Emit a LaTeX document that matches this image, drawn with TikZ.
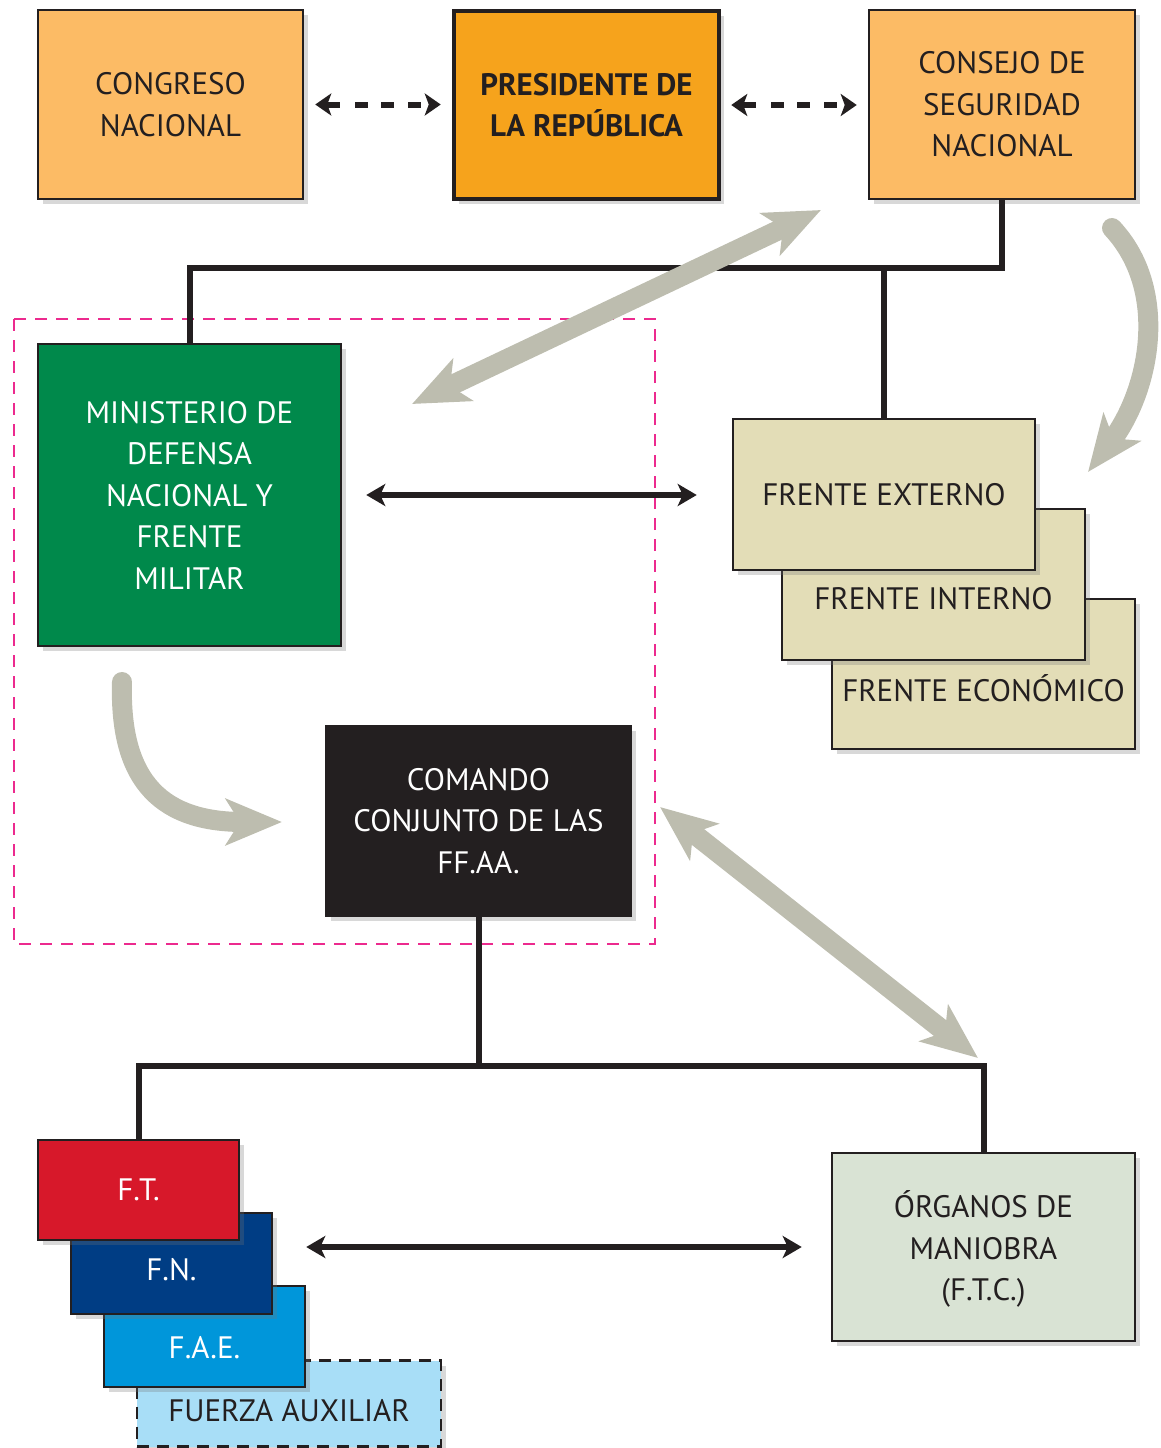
\documentclass[tikz,border=0pt]{standalone}
\usepackage{fontspec}
\setmainfont{PT Sans}
\usetikzlibrary{arrows.meta,shadows}
\definecolor{ink}{HTML}{231F20}
\definecolor{orangeL}{HTML}{FCBB65}
\definecolor{orangeD}{HTML}{F6A31C}
\definecolor{greenM}{HTML}{00894B}
\definecolor{khaki}{HTML}{E3DDB7}
\definecolor{sage}{HTML}{D9E3D4}
\definecolor{redF}{HTML}{D7182A}
\definecolor{navyF}{HTML}{003D84}
\definecolor{blueF}{HTML}{0096DA}
\definecolor{skyF}{HTML}{A8DEF7}
\definecolor{grayA}{HTML}{BDBDAF}
\definecolor{magF}{HTML}{EC2A8E}
\newcommand{\lowertext}[2]{\raisebox{-#1}[\height][\depth]{#2}}
\begin{document}
\begin{tikzpicture}[x=1pt,y=-1pt,
  box/.style={draw=ink, line width=2.5pt, inner sep=0pt, align=center,
    font=\fontsize{31}{41.5}\selectfont, text=ink,
    drop shadow={shadow xshift=5pt,shadow yshift=-5pt,opacity=0.28,fill=black!55}},
  bus/.style={draw=ink, line width=6pt},
  dasharrow/.style={draw=ink, line width=6pt,
    {Stealth[length=16pt,width=22pt,inset=4pt]}-{Stealth[length=16pt,width=22pt,inset=4pt]},
    dash pattern=on 14pt off 15pt on 13pt off 13pt on 13pt off 14pt on 13pt off 8pt on 40pt},
  blkarrow/.style={draw=ink, line width=6pt,
    {Stealth[length=19pt,width=22pt,inset=5pt]}-{Stealth[length=19pt,width=22pt,inset=5pt]}},
  grayarrow/.style={draw=grayA, line width=20pt,
    -{Stealth[length=56pt,width=46pt,inset=14pt]}},
  graydouble/.style={draw=grayA, line width=20pt,
    {Stealth[length=56pt,width=46pt,inset=14pt]}-{Stealth[length=56pt,width=46pt,inset=14pt]}},
  magframe/.style={draw=magF, line width=1.5pt, dash pattern=on 12pt off 9pt}
]
\useasboundingbox (0,0) rectangle (1161,1448);

% dashed magenta frame
\draw[magframe] (14,319) rectangle (655,944);

% bus coordinates
\coordinate (busA) at (0,268);
\coordinate (busB) at (0,1066);

% top nodes
\node[box, fill=orangeL, minimum width=265pt, minimum height=189pt] (congreso) at (170.5,104.5) {CONGRESO\\NACIONAL};
\node[box, fill=orangeD, line width=4.5pt, minimum width=265pt, minimum height=188pt, font=\fontsize{31}{41.5}\selectfont\bfseries] (presidente) at (586.5,105) {PRESIDENTE DE\\LA REPÚBLICA};
\node[box, fill=orangeL, minimum width=266pt, minimum height=189pt] (consejo) at (1002,104.5) {CONSEJO DE\\SEGURIDAD\\NACIONAL};

\node[box, fill=greenM, text=white, minimum width=303pt, minimum height=302pt] (ministerio) at (189.5,495) {MINISTERIO DE\\DEFENSA\\NACIONAL Y\\FRENTE\\MILITAR};

\node[box, fill=khaki, minimum width=303pt, minimum height=150pt] (economico) at (983.5,674) {\lowertext{14pt}{FRENTE ECONÓMICO}};
\node[box, fill=khaki, minimum width=303pt, minimum height=151pt] (interno) at (933.5,584.5) {\lowertext{14pt}{FRENTE INTERNO}};
\node[box, fill=khaki, minimum width=302pt, minimum height=151pt] (externo) at (884,494.5) {FRENTE EXTERNO};

\node[box, fill=ink, text=white, minimum width=305pt, minimum height=190pt] (comando) at (478.5,821) {COMANDO\\CONJUNTO DE LAS\\FF.AA.};

% bottom stack
\node[box, fill=skyF, dash pattern=on 12pt off 8pt, minimum width=304pt, minimum height=86pt] (aux) at (289,1403.5) {\lowertext{7pt}{FUERZA AUXILIAR}};
\node[box, fill=blueF, text=white, minimum width=201pt, minimum height=101pt] (fae) at (204.5,1336.5) {\lowertext{11pt}{F.A.E.}};
\node[box, fill=navyF, text=white, minimum width=201pt, minimum height=101pt] (fn) at (171.5,1263.5) {\lowertext{6pt}{F.N.}};
\node[box, fill=redF, text=white, minimum width=201pt, minimum height=100pt] (ft) at (138.5,1190) {F.T.};

\node[box, fill=sage, minimum width=303pt, minimum height=188pt] (organos) at (983.5,1247) {\lowertext{4pt}{\begin{tabular}{@{}c@{}}ÓRGANOS DE\\MANIOBRA\\(F.T.C.)\end{tabular}}};

% bus lines
\draw[bus] (consejo.south) |- (ministerio.north |- busA) -- (ministerio.north);
\draw[bus] (externo.north) -- (externo.north |- busA);
\draw[bus] (comando.south) -- (comando.south |- busB);
\draw[bus] (ft.north) |- (organos.north |- busB) -- (organos.north);

% dashed arrows
\draw[dasharrow] ([xshift=11pt]congreso.east) -- ([xshift=-11pt]presidente.west |- congreso.east);
\draw[dasharrow] ([xshift=10pt]presidente.east) -- ([xshift=-11pt]consejo.west |- presidente.east);

% black double arrows
\draw[blkarrow] ([xshift=24pt]ministerio.east) -- ([xshift=-35pt]externo.west |- ministerio.east);
\draw[blkarrow] (fae.east |- organos.west) -- ([xshift=-29pt]organos.west);

% gray arrows
\coordinate (g1a) at (412,404);
\coordinate (g1b) at (821,210);
\coordinate (g2a) at (660,807);
\coordinate (g2b) at (978,1058);
\draw[graydouble] (g1a) -- (g1b);
\draw[graydouble] (g2a) -- (g2b);
\coordinate (c1s) at (1112,228);
\coordinate (c1e) at (1088,472);
\draw[grayarrow, line cap=round] (c1s) .. controls (1170,290) and (1150,390) .. (c1e);
\coordinate (c2s) at (122,682);
\coordinate (c2e) at (282,822);
\draw[grayarrow, line cap=round] (c2s) .. controls (119,785) and (165,822) .. (c2e);
\end{tikzpicture}
\end{document}
